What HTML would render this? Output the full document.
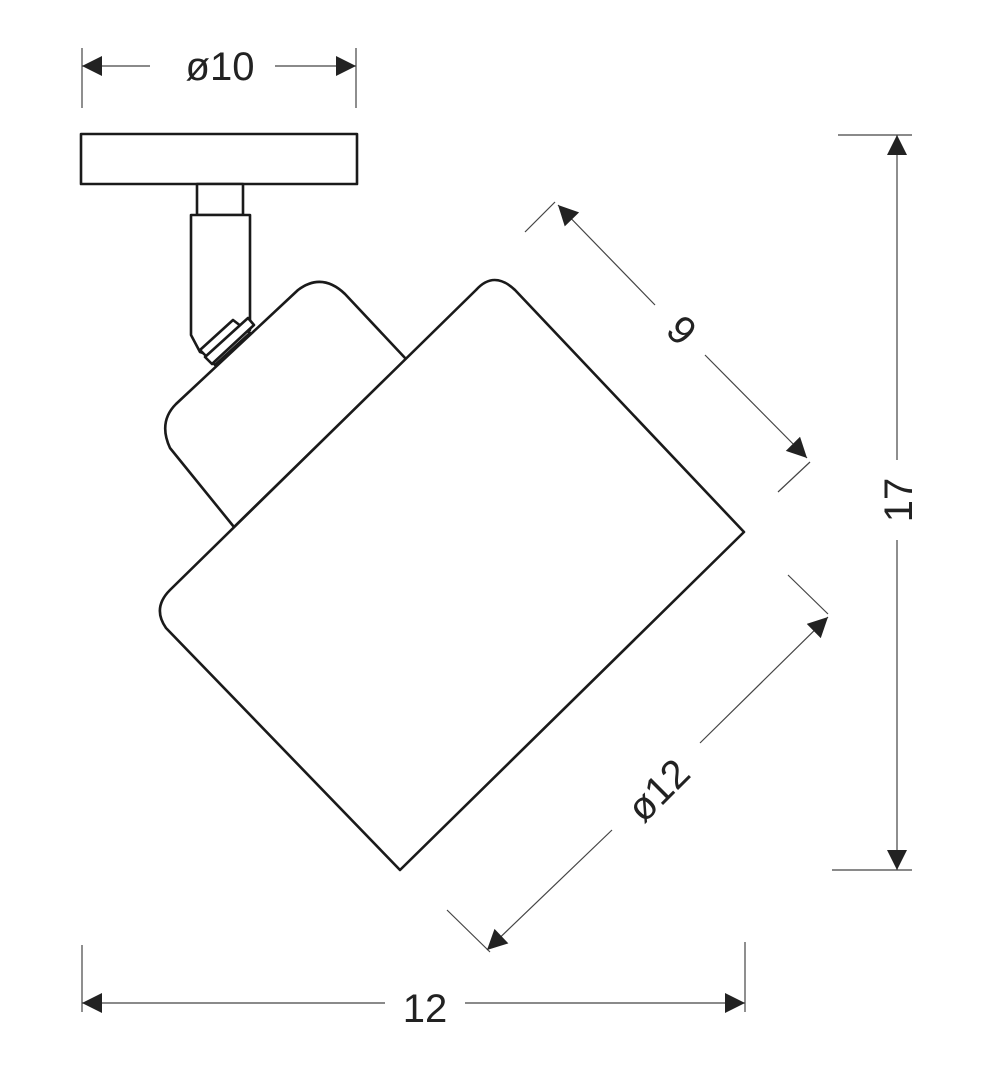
<!DOCTYPE html>
<html><head><style>body{margin:0;background:#fff}svg{display:block}</style></head><body>
<svg width="1000" height="1071" viewBox="0 0 1000 1071" xmlns="http://www.w3.org/2000/svg">
<defs>
<marker id="a" viewBox="0 0 10 10" refX="10" refY="5" markerWidth="26" markerHeight="20" markerUnits="userSpaceOnUse" orient="auto-start-reverse"><path d="M0,0L10,5L0,10z" fill="#222"/></marker>
</defs>
<g fill="#fff" stroke="#1a1a1a" stroke-width="2.6" stroke-linejoin="round">
<rect x="81" y="134" width="276" height="50"/>
<rect x="197" y="184" width="46" height="31"/>
<path d="M191,215 L250,215 L250,330 L218,358 L200,352 L191,335 Z"/>
<path d="M406,359 L345,294 Q322,272 298,290 L176,404 Q158,422 170,448 L234,527 Z"/>
<path d="M200,350 L233,320 L250,333 L215,365 Z"/>
<path d="M205,357 L248,318 L254,325 L212,364 Z"/>
<path d="M476,290 Q494,270 515,290 L744,532 L400,870 L166,628 Q152,608 170,590 Z"/>
</g>
<g stroke="#444" stroke-width="1.2" fill="none">
<line x1="82" y1="48" x2="82" y2="108"/><line x1="356" y1="48" x2="356" y2="108"/>
<line x1="82" y1="66" x2="150" y2="66" marker-start="url(#a)"/><line x1="275" y1="66" x2="356" y2="66" marker-end="url(#a)"/>
<line x1="838" y1="135" x2="912" y2="135"/><line x1="832" y1="870" x2="912" y2="870"/>
<line x1="897" y1="135" x2="897" y2="460" marker-start="url(#a)"/><line x1="897" y1="540" x2="897" y2="870" marker-end="url(#a)"/>
<line x1="82" y1="945" x2="82" y2="1012"/><line x1="745" y1="942" x2="745" y2="1012"/>
<line x1="82" y1="1003" x2="385" y2="1003" marker-start="url(#a)"/><line x1="465" y1="1003" x2="745" y2="1003" marker-end="url(#a)"/>
<line x1="525" y1="232" x2="555" y2="202"/><line x1="778" y1="492" x2="810" y2="462"/>
<line x1="558" y1="205" x2="655" y2="305" marker-start="url(#a)"/><line x1="705" y1="355" x2="807" y2="458" marker-end="url(#a)"/>
<line x1="788" y1="575" x2="828" y2="614"/><line x1="447" y1="910" x2="490" y2="952"/>
<line x1="828" y1="617" x2="700" y2="743" marker-start="url(#a)"/><line x1="612" y1="830" x2="487" y2="950" marker-end="url(#a)"/>
</g>
<g font-family="Liberation Sans, sans-serif" font-size="40" fill="#222" text-anchor="middle">
<text x="220" y="80">ø10</text>
<text x="425" y="1022">12</text>
<text transform="translate(912,500) rotate(-90)">17</text>
<text transform="translate(672,340) rotate(45)">9</text>
<text transform="translate(668,800) rotate(-45)">ø12</text>
</g>
</svg>
</body></html>
